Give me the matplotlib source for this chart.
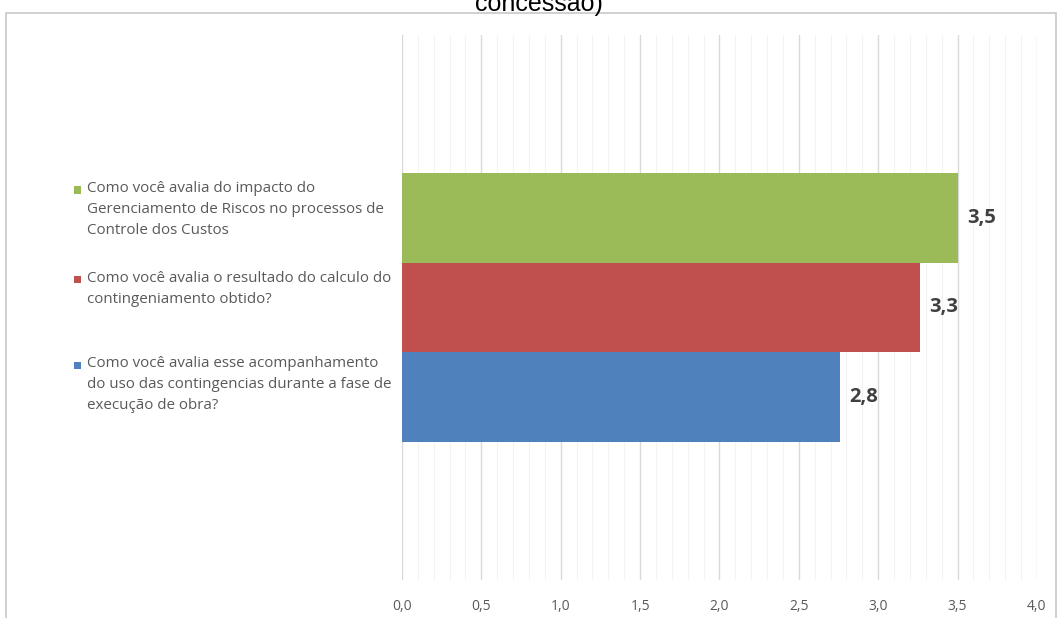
import matplotlib
matplotlib.use("Agg")
import matplotlib.pyplot as plt
from matplotlib.patches import Rectangle
from matplotlib.ticker import MultipleLocator, FuncFormatter

# Data (top to bottom as drawn)
questions = [
    "Como você avalia do impacto do\nGerenciamento de Riscos no processos de\nControle dos Custos",
    "Como você avalia o resultado do calculo do\ncontingeniamento obtido?",
    "Como você avalia esse acompanhamento\ndo uso das contingencias durante a fase de\nexecução de obra?",
]
scores = [3.5, 3.26, 2.76]
colors = ["#9BBB59", "#C0504D", "#4F81BD"]
positions = [0.165, 0.0, -0.165]
bar_height = 0.165

TEXT_FONT = ["Open Sans", "DejaVu Sans"]

fig = plt.figure(figsize=(10.59, 6.18), dpi=100)
ax = fig.add_axes([0.3796, 0.0615, 0.5996, 0.8819])

for pos, val, col in zip(positions, scores, colors):
    ax.barh(pos, val, height=bar_height, color=col, zorder=3)
    ax.text(val + 0.06, pos, f"{val:.1f}".replace(".", ","), va="center", ha="left",
            fontsize=14.5, fontweight="bold", color="#404040", family=TEXT_FONT, zorder=4)

ax.set_xlim(0, 4.0)
ax.set_ylim(-0.5, 0.5)
ax.xaxis.set_major_locator(MultipleLocator(0.5))
ax.xaxis.set_minor_locator(MultipleLocator(0.1))
ax.xaxis.set_major_formatter(FuncFormatter(lambda v, p: f"{v:.1f}".replace(".", ",")))
ax.grid(axis="x", which="major", color="#d9d9d9", linewidth=1.0, zorder=0)
ax.grid(axis="x", which="minor", color="#f3f3f3", linewidth=0.8, zorder=0)
ax.set_yticks([])
ax.tick_params(axis="x", which="both", length=0, pad=14, labelsize=10, labelcolor="#595959")
for lbl in ax.get_xticklabels():
    lbl.set_family(TEXT_FONT)
for s in ax.spines.values():
    s.set_visible(False)

# Legend on the left (uneven spacing as in the original)
legend_y = [190, 280, 365]  # pixel y of first line of each entry
for y, text, col in zip(legend_y, questions, colors):
    fy = 1 - y / 618
    fig.add_artist(Rectangle((74 / 1059, fy - 3.5 / 618), 7 / 1059, 7 / 618,
                             transform=fig.transFigure, color=col, ec="none"))
    fig.text(87 / 1059, fy + 9 / 618, text, ha="left", va="top", fontsize=10.9,
             color="#595959", family=TEXT_FONT, linespacing=1.55)

# Outer chart border
fig.add_artist(Rectangle((6 / 1059, -0.01), 1050 / 1059, 1 - 13 / 618 + 0.01,
                         transform=fig.transFigure, fill=False, ec="#c8c8c8", lw=1.2))

# Title (cut off at the top in the original)
fig.text(539 / 1059, 1 - 11 / 618, "concessão)", ha="center", va="baseline",
         fontsize=18, color="#000000", family=["Liberation Sans", "DejaVu Sans"])

fig.savefig("out.png", dpi=100)
